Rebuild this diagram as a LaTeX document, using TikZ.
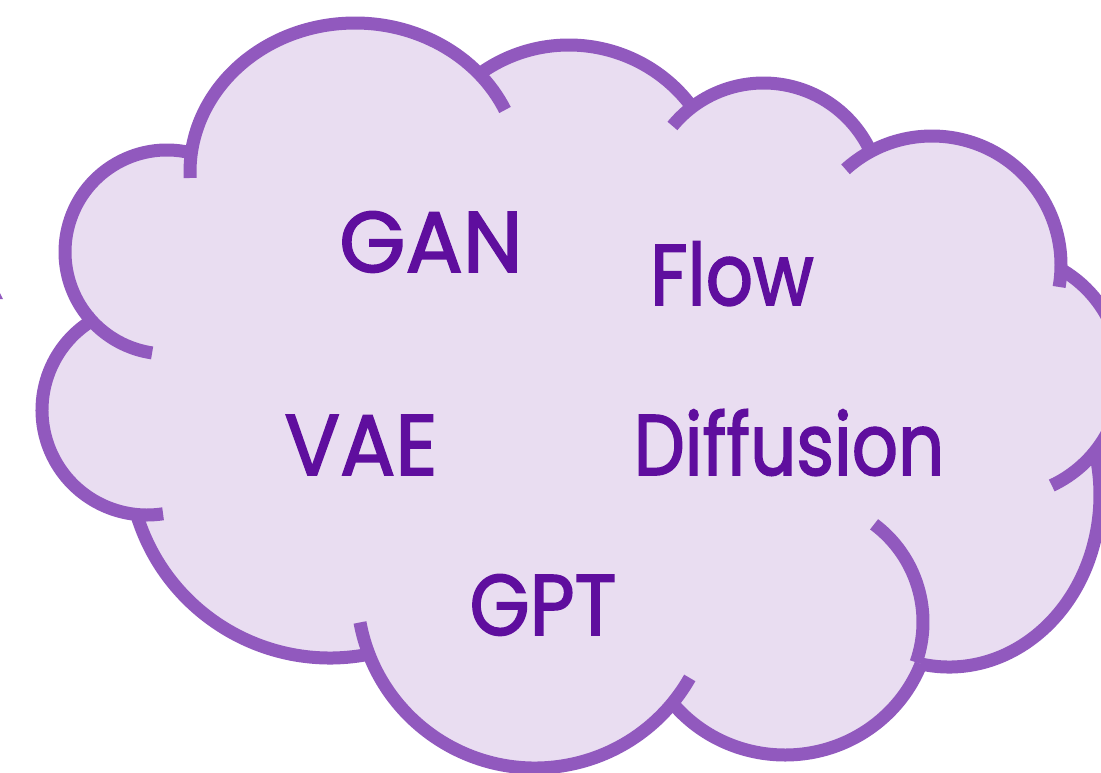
\documentclass[tikz,border=0pt]{standalone}
\usepackage{graphicx}
\usepackage{fontspec}
\newfontfamily\wordfont{Poppins}[FakeBold=2]
\definecolor{cloudline}{HTML}{9159BE}
\definecolor{cloudfill}{HTML}{E9DDF1}
\definecolor{labelink}{HTML}{5F0E9E}
\begin{document}
\begin{tikzpicture}[x=1pt,y=-1pt,
  lobe/.style={draw=cloudline, line width=13pt},
  word/.style={text=labelink, font=\wordfont\fontsize{86}{90}\selectfont,
               anchor=base, inner sep=0pt}]
\useasboundingbox (0,0) rectangle (1101,772);
\clip (0,0) rectangle (1101,772);

% body of the cloud, bounded by the outer part of each lobe (clockwise)
\fill[cloudfill]
     ([shift={(355,172)}]187.3:165 and 149) arc[start angle=187.3, end angle=318.9, x radius=165, y radius=149]
  -- ([shift={(569,198)}]235.4:153) arc[start angle=235.4, end angle=323.5, radius=153]
  -- ([shift={(763.5,201)}]232.8:118) arc[start angle=232.8, end angle=334.4, radius=118]
  -- ([shift={(932,265)}]241.7:129) arc[start angle=241.7, end angle=360.9, radius=129]
  -- ([shift={(1000,375)}]-59.7:122) arc[start angle=-59.7, end angle=37.3, radius=122]
  -- ([shift={(949,495)}]-15.2:151 and 172) arc[start angle=-15.2, end angle=100.7, x radius=151, y radius=172]
  -- ([shift={(785,612)}]21.3:146 and 143) arc[start angle=21.3, end angle=138.9, x radius=146, y radius=143]
  -- ([shift={(535,590)}]39.6:178) arc[start angle=39.6, end angle=158.3, radius=178]
  -- ([shift={(330,456)}]79.8:202) arc[start angle=79.8, end angle=163.3, radius=202]
  -- ([shift={(147,410)}]95.5:105) arc[start angle=95.5, end angle=241.2, radius=105]
  -- ([shift={(167,252)}]136.3:102) arc[start angle=136.3, end angle=283.1, radius=102]
  -- cycle;

% outline: one arc per lobe, several running on into the body
\draw[lobe] ([shift={(355,172)}]177.7:165 and 149) arc[start angle=177.7, end angle=335.4, x radius=165, y radius=149];
\draw[lobe] ([shift={(569,198)}]235.4:153) arc[start angle=235.4, end angle=323.5, radius=153];
\draw[lobe] ([shift={(763.5,201)}]219.5:118) arc[start angle=219.5, end angle=334.4, radius=118];
\draw[lobe] ([shift={(932,265)}]227.9:129) arc[start angle=227.9, end angle=369.8, radius=129];
\draw[lobe] ([shift={(1000,375)}]-59.7:122) arc[start angle=-59.7, end angle=64.9, radius=122];
\draw[lobe] ([shift={(949,495)}]100.7:151 and 172) arc[start angle=100.7, end angle=-15.2, x radius=151, y radius=172];
\draw[lobe] ([shift={(785,612)}]138.9:146 and 143) arc[start angle=138.9, end angle=21.3, x radius=146, y radius=143];
\draw[lobe] ([shift={(801,622)}]19.3:122) arc[start angle=19.3, end angle=-53.2, radius=122];
\draw[lobe] ([shift={(535,590)}]169.5:178) arc[start angle=169.5, end angle=29.6, radius=178];
\draw[lobe] ([shift={(330,456)}]163.3:202) arc[start angle=163.3, end angle=79.8, radius=202];
\draw[lobe] ([shift={(147,410)}]241.2:105) arc[start angle=241.2, end angle=81.2, radius=105];
\draw[lobe] ([shift={(167,252)}]283.1:102) arc[start angle=283.1, end angle=98.4, radius=102];

% small tip at the left border
\fill[cloudline] (0,293) -- (3,299) -- (0,299) -- cycle;

% model names
\node[word] (gan)  at (431,272) {\scalebox{0.99}[1]{GAN}};
\node[word] (flow) at (732,305) {\scalebox{0.86}[1]{Flow}};
\node[word] (vae)  at (361,475) {\scalebox{0.955}[1]{VAE}};
\node[word] (diff) at (789,475) {\scalebox{0.84}[1]{Diffusion}};
\node[word] (gpt)  at (543,635) {\scalebox{0.9}[1]{GPT}};
\end{tikzpicture}
\end{document}
